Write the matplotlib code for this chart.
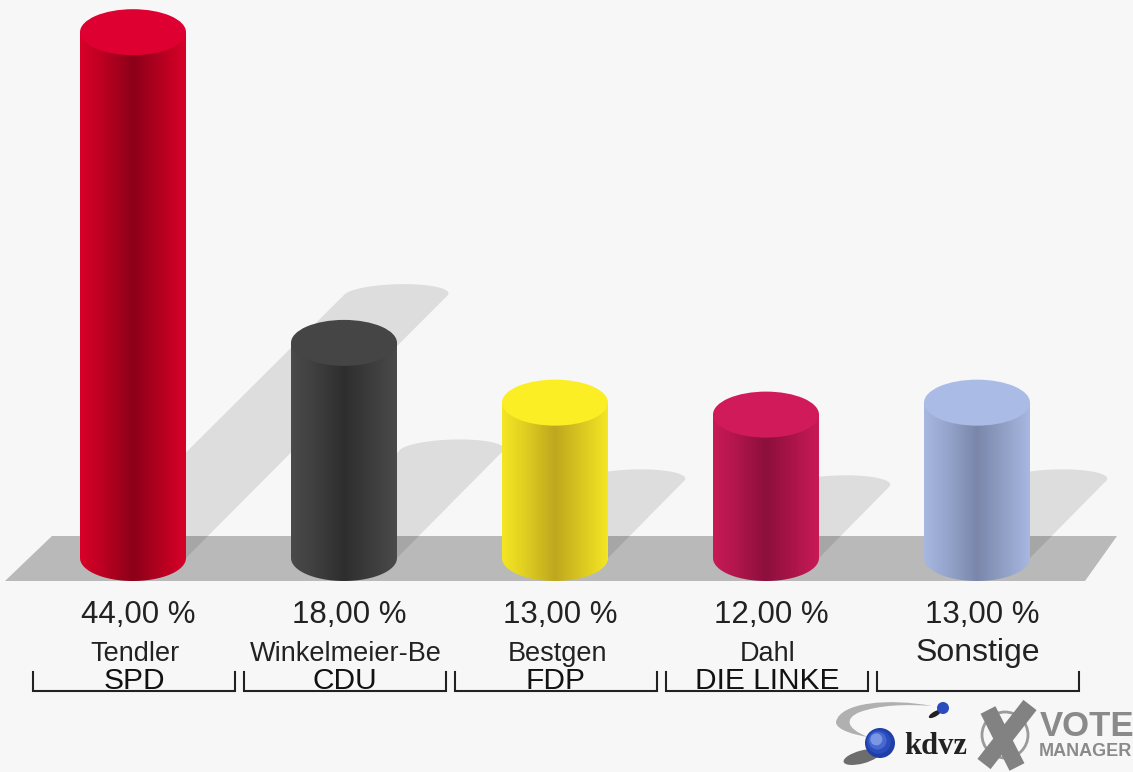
import numpy as np
import matplotlib
matplotlib.use('Agg')
import matplotlib.pyplot as plt
from matplotlib.colors import to_rgb
from matplotlib.patches import Circle, Ellipse, PathPatch, Polygon
from matplotlib.path import Path

plt.rcParams['font.family'] = ['Liberation Sans', 'DejaVu Sans']

# chart data
candidates = ['Tendler', 'Winkelmeier-Be', 'Bestgen', 'Dahl', 'Sonstige']
parties = ['SPD', 'CDU', 'FDP', 'DIE LINKE', '']
values = [44.0, 18.0, 13.0, 12.0, 13.0]
value_labels = ['44,00 %', '18,00 %', '13,00 %', '12,00 %', '13,00 %']

# bar colours: side, darkest part of the side, top
side_colors = ['#d80028', '#4a4a4a', '#f4e623', '#c81a55', '#a7b7e0']
dark_colors = ['#8c0018', '#2e2e2e', '#bfa71e', '#8c0f3c', '#7a87ab']
top_colors = ['#dd0030', '#454545', '#fbee24', '#d01a5a', '#aabce6']

W, H = 1133, 772
BG = '#f7f7f7'
px_per_bar = 211
px_per_pct = 11.95
first_x, base_y = 133, 558

fig = plt.figure(figsize=(W / 100, H / 100), dpi=100, facecolor=BG)

# background layer in pixels: floor, brackets, logo
bg = fig.add_axes([0, 0, 1, 1])
bg.set_xlim(0, W)
bg.set_ylim(H, 0)
bg.axis('off')
bg.add_patch(Polygon([(5, 581), (52, 536), (1117, 536), (1085, 581)],
                     facecolor='#b9b9b9', edgecolor='none'))

# the chart itself: x is the bar number, y is percent
ax = fig.add_axes([0, 0, 1, 1], facecolor='none')
ax.axis('off')
ax.set_xlim(-first_x / px_per_bar, (W - first_x) / px_per_bar)
ax.set_ylim((base_y - H) / px_per_pct, base_y / px_per_pct)
ax.autoscale(False)

hw = 53 / px_per_bar
hh = 23 / px_per_pct
t = np.linspace(0, np.pi, 60)

# shadows go up and right, half as high as the bar, cap leans to the right
for i, v in enumerate(values):
    cx = i + v * (px_per_pct / 2) / px_per_bar
    cy = v / 2
    arc_x = cx - 52 / px_per_bar * np.cos(t) + 8 / px_per_bar * np.sin(t)
    arc_y = cy + 11 / px_per_pct * np.sin(t)
    pts = [(i - hw, 0)] + list(zip(arc_x, arc_y)) + [(i + hw, 0)]
    ax.add_patch(Polygon(pts, facecolor='black', alpha=0.1, edgecolor='none', zorder=1))

stops = [0, 0.2, 0.5, 0.6, 1]
mix = [0, 0.35, 1, 0.8, 0]
trans = ax.get_xaxis_transform()
for i, v in enumerate(values):
    side = np.array(to_rgb(side_colors[i]))
    dark = np.array(to_rgb(dark_colors[i]))
    amount = np.interp(np.linspace(0, 1, 106), stops, mix)[None, :, None]
    shade = side * (1 - amount) + dark * amount
    body = [(i - hw, v), (i + hw, v)]
    body += list(zip(i + hw * np.cos(t), -hh * np.sin(t)))
    patch = Polygon(body, transform=ax.transData, facecolor='none', edgecolor='none')
    ax.add_patch(patch)
    im = ax.imshow(shade, extent=(i - hw, i + hw, -hh, v), aspect='auto', zorder=2)
    im.set_clip_path(patch)
    ax.add_patch(Ellipse((i, v), 2 * hw, 2 * hh, facecolor=top_colors[i],
                         edgecolor='none', zorder=3))

    # labels under the bar
    ax.text(i + 5 / px_per_bar, 1 - 615 / H, value_labels[i], transform=trans,
            ha='center', va='center', fontsize=22.5, color='#222222')
    if parties[i]:
        ax.text(i + 2 / px_per_bar, 1 - 654 / H, candidates[i], transform=trans,
                ha='center', va='center', fontsize=19.5, color='#222222')
        ax.text(i + 1 / px_per_bar, 1 - 681 / H, parties[i], transform=trans,
                ha='center', va='center', fontsize=21.5, color='#111111')
    else:
        ax.text(i + 1 / px_per_bar, 1 - 653 / H, candidates[i], transform=trans,
                ha='center', va='center', fontsize=23, color='#222222')

# brackets
for i in range(len(values)):
    left = 33 + px_per_bar * i
    bg.plot([left, left, left + 202, left + 202], [672, 691, 691, 672],
            color='#222222', lw=1.5, solid_joinstyle='miter')

# kdvz logo
swoosh = Path([(932, 706), (890, 698), (840, 702), (836, 722), (836, 730), (855, 735), (868, 737),
               (845, 728), (845, 718), (860, 712), (880, 705), (905, 704), (932, 706)],
              [Path.MOVETO] + [Path.CURVE4] * 12)
bg.add_patch(PathPatch(swoosh, facecolor='#b0b0b0', edgecolor='none'))
bg.add_patch(Ellipse((862, 757), 38, 13, angle=-15, facecolor='#333333', alpha=0.7, edgecolor='none'))
for r, col in zip([15, 12, 9, 6], ['#1f3ea8', '#2a4cbc', '#4668cf', '#7b96e2']):
    bg.add_patch(Circle((880 - (15 - r) * 0.4, 743 - (15 - r) * 0.4), r, facecolor=col, edgecolor='none'))
bg.add_patch(Ellipse((935, 714), 14, 5, angle=-30, facecolor='#222222', edgecolor='none'))
bg.add_patch(Circle((943, 708), 6, facecolor='#2a4cbc', edgecolor='none'))
bg.text(904, 747, 'kdvz', family=['Liberation Serif'], fontweight='bold', fontsize=22,
        ha='left', va='center', color='#222222')

# vote manager logo
bg.add_patch(Circle((1005, 735), 23, facecolor='none', edgecolor='#9a9a9a', lw=2))
bg.plot([988, 1017], [710, 767], color='#828282', lw=12, solid_capstyle='butt')
bg.plot([1030, 984], [705, 764], color='#828282', lw=12, solid_capstyle='butt')
bg.text(1040, 726, 'VOTE', fontweight='bold', fontsize=25, ha='left', va='center', color='#8a8a8a')
bg.text(1039, 751, 'MANAGER', fontweight='bold', fontsize=13, ha='left', va='center', color='#8a8a8a')

fig.savefig('out.png', dpi=100, facecolor=BG)
